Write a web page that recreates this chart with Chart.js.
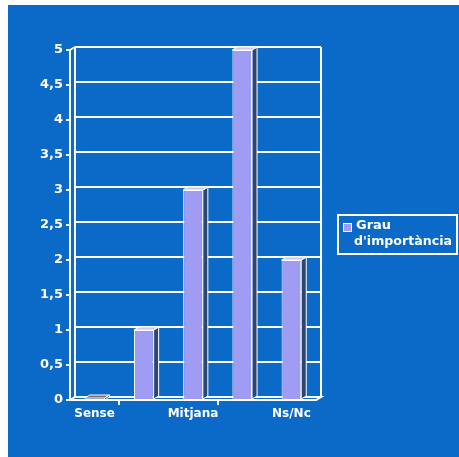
<!DOCTYPE html>
<html>
<head>
<meta charset="utf-8">
<script src="https://cdn.jsdelivr.net/npm/chart.js@4/dist/chart.umd.min.js"></script>
<style>
  html,body{margin:0;padding:0;background:#fff;}
  #bg{position:absolute;left:8px;top:5px;width:451px;height:452px;background:#0B69C7;}
  #c{position:absolute;left:0;top:0;}
  #legend{position:absolute;left:337px;top:214px;width:117px;height:37px;border:2px solid #fff;
    font-family:"DejaVu Sans",Verdana,sans-serif;font-weight:bold;color:#fff;line-height:14px;}
  #legend .sw{position:absolute;left:4px;top:7px;width:7px;height:7px;background:#A09CF4;border:1px solid #fff;}
  #legend .t1{position:absolute;left:17px;top:2px;font-size:13px;}
  #legend .t2{position:absolute;left:15px;top:18px;font-size:12.6px;}
</style>
</head>
<body>
<div id="bg"></div>
<canvas id="c" width="459" height="457"></canvas>
<div id="legend"><div class="sw"></div><div class="t1">Grau</div><div class="t2">d'importància</div></div>
<script>
const categories = ['Sense', 'Poca', 'Mitjana', 'Molta', 'Ns/Nc'];
const seriesName = "Grau d'importància";
const values = [0, 1, 3, 5, 2];
const yTicks = { min: 0, max: 5, step: 0.5 };

const DX = 5, DY = -3;
const BAR = '#A09CF4', SIDE = '#2B4670', TOP = '#C9C6FA';

const wallPlugin = {
  id: 'wall',
  beforeDatasetsDraw(chart) {
    const ctx = chart.ctx, a = chart.chartArea, ys = chart.scales.y;
    ctx.save();
    ctx.strokeStyle = '#fff';
    ctx.lineWidth = 2;
    ctx.fillStyle = '#0B69C7';
    ctx.beginPath();
    ctx.moveTo(a.left, a.bottom);
    ctx.lineTo(a.left + DX, a.bottom + DY);
    ctx.lineTo(a.right + DX, a.bottom + DY);
    ctx.lineTo(a.right, a.bottom);
    ctx.closePath();
    ctx.fill();
    ctx.stroke();
    ys.ticks.forEach(t => {
      const y = ys.getPixelForValue(t.value) + DY;
      ctx.beginPath();
      ctx.moveTo(a.left + DX, y);
      ctx.lineTo(a.right + DX, y);
      ctx.stroke();
    });
    ctx.beginPath();
    ctx.moveTo(a.left + DX, a.top + DY);
    ctx.lineTo(a.left + DX, a.bottom + DY);
    ctx.moveTo(a.right + DX, a.top + DY);
    ctx.lineTo(a.right + DX, a.bottom + DY);
    ctx.moveTo(a.left, a.top);
    ctx.lineTo(a.left + DX, a.top + DY);
    ctx.stroke();
    ctx.restore();
  }
};

const bar3dPlugin = {
  id: 'bar3d',
  afterDatasetsDraw(chart) {
    const ctx = chart.ctx;
    const meta = chart.getDatasetMeta(0);
    ctx.save();
    ctx.lineWidth = 1;
    ctx.strokeStyle = '#fff';
    meta.data.forEach(el => {
      const p = el.getProps(['x', 'y', 'base', 'width'], true);
      const l = p.x - p.width / 2, r = p.x + p.width / 2;
      const top = Math.min(p.y, p.base) - (p.y === p.base ? 2 : 0), base = p.base;
      ctx.fillStyle = SIDE;
      ctx.beginPath();
      ctx.moveTo(r, top);
      ctx.lineTo(r + DX, top + DY);
      ctx.lineTo(r + DX, base + DY);
      ctx.lineTo(r, base);
      ctx.closePath();
      ctx.fill();
      ctx.stroke();
      ctx.fillStyle = p.y === p.base ? '#8a6a5a' : TOP;
      ctx.beginPath();
      ctx.moveTo(l, top);
      ctx.lineTo(l + DX, top + DY);
      ctx.lineTo(r + DX, top + DY);
      ctx.lineTo(r, top);
      ctx.closePath();
      ctx.fill();
      ctx.stroke();
    });
    ctx.restore();
  }
};

new Chart(document.getElementById('c'), {
  type: 'bar',
  data: {
    labels: categories,
    datasets: [{
      label: seriesName,
      data: values,
      backgroundColor: BAR,
      borderColor: '#fff',
      borderWidth: 1,
      barPercentage: 0.4,
      categoryPercentage: 1
    }]
  },
  options: {
    responsive: false,
    animation: false,
    layout: { padding: { left: 0, right: 143, top: 50, bottom: 0 } },
    plugins: { legend: { display: false }, tooltip: { enabled: false } },
    scales: {
      x: {
        afterFit(s) { s.height = 57; },
        ticks: {
          autoSkip: false, maxRotation: 0, color: '#fff', padding: 2,
          font: { family: 'DejaVu Sans', weight: 'bold', size: 12 },
          callback(v, i) { return i % 2 === 0 ? categories[i] : ''; }
        },
        grid: {
          drawOnChartArea: false, drawTicks: true, tickLength: 5, lineWidth: 2,
          color: c => (c.index % 2 === 1 || c.index === categories.length) ? '#fff' : 'rgba(0,0,0,0)'
        },
        border: { display: true, color: '#fff', width: 2 }
      },
      y: {
        min: yTicks.min, max: yTicks.max,
        afterFit(s) { s.width = 70; },
        ticks: {
          stepSize: yTicks.step, color: '#fff', padding: 3,
          font: { family: 'DejaVu Sans', weight: 'bold', size: 13 },
          callback(v) { return String(v).replace('.', ','); }
        },
        grid: { drawOnChartArea: false, drawTicks: true, tickLength: 4, color: '#fff', lineWidth: 2 },
        border: { display: true, color: '#fff', width: 2 }
      }
    }
  },
  plugins: [wallPlugin, bar3dPlugin]
});
</script>
</body>
</html>
